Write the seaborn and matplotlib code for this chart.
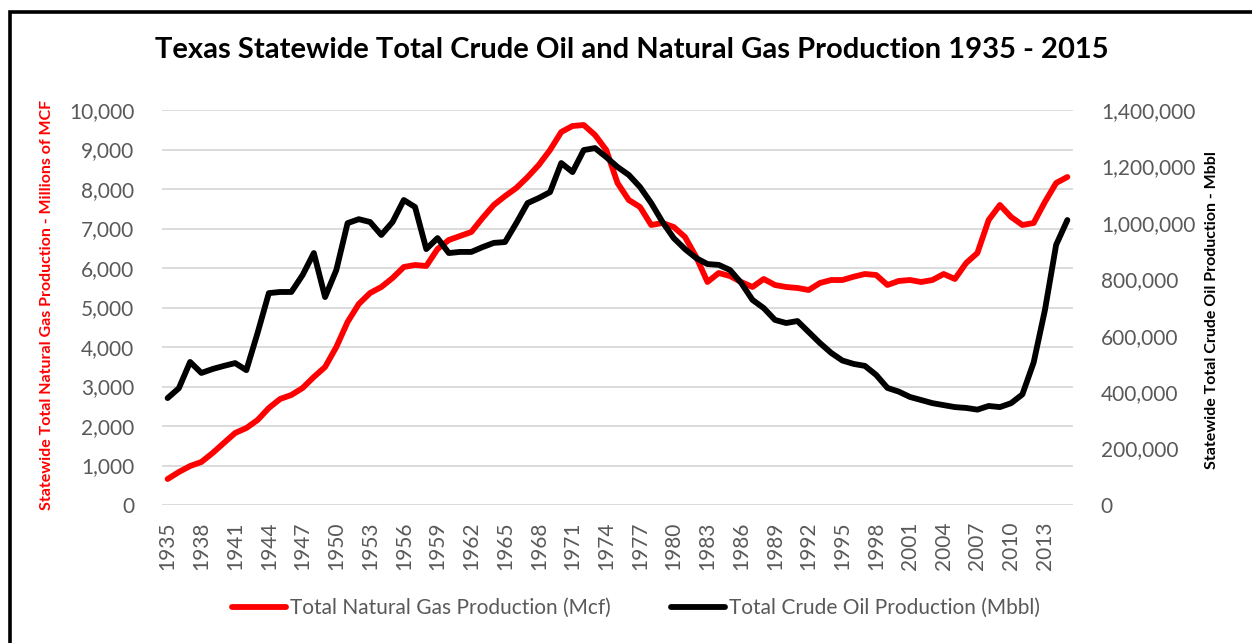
import numpy as np
import pandas as pd
import matplotlib
matplotlib.use("Agg")
import matplotlib.pyplot as plt
from matplotlib.patches import Rectangle
from matplotlib.ticker import FuncFormatter
import seaborn as sns

years = list(range(1935, 2016))

# natural gas, millions of MCF (left axis)
gas = [658, 835, 987, 1089, 1316, 1570, 1823, 1949, 2152, 2456,
       2684, 2785, 2962, 3241, 3494, 4000, 4633, 5090, 5367, 5519,
       5747, 6025, 6076, 6051, 6481, 6709, 6810, 6911, 7266, 7595,
       7820, 8025, 8300, 8608, 8987, 9443, 9595, 9620, 9367, 8987,
       8152, 7722, 7544, 7089, 7139, 7038, 6785, 6278, 5646, 5873,
       5797, 5646, 5519, 5722, 5570, 5519, 5494, 5443, 5620, 5696,
       5696, 5780, 5848, 5823, 5570, 5671, 5696, 5646, 5696, 5848,
       5722, 6127, 6380, 7215, 7595, 7291, 7089, 7139, 7671, 8152,
       8304]

# crude oil, Mbbl (right axis)
oil = [379000, 414000, 507000, 468000, 482000, 493000, 503000, 478000, 610000, 751000,
       755000, 755000, 815000, 893000, 737000, 833000, 999000, 1013000, 1003000, 957000,
       1003000, 1081000, 1056000, 907000, 946000, 893000, 897000, 897000, 914000, 929000,
       932000, 999000, 1070000, 1088000, 1109000, 1212000, 1180000, 1258000, 1265000, 1233000,
       1198000, 1170000, 1127000, 1070000, 1003000, 946000, 907000, 875000, 854000, 851000,
       833000, 787000, 727000, 698000, 656000, 645000, 652000, 613000, 574000, 539000,
       512000, 500000, 493000, 461000, 415000, 402000, 383000, 372000, 361000, 354000,
       347000, 344000, 338000, 351000, 347000, 361000, 392000, 505000, 690000, 922000,
       1010000]

gas_label = "Total Natural Gas Production (Mcf)"
oil_label = "Total Crude Oil Production (Mbbl)"

df = pd.DataFrame({"pos": np.arange(len(years)), "year": years, "gas": gas, "oil": oil})

sns.set_style("white")
plt.rcParams["font.family"] = ["Lato", "DejaVu Sans"]

tick_color = "#595959"

fig = plt.figure(figsize=(12.52, 6.43), dpi=100)
ax = fig.add_axes([162 / 1252, 1 - 505 / 643, (1073 - 162) / 1252, (505 - 110) / 643])
ax2 = ax.twinx()

sns.lineplot(data=df, x="pos", y="gas", ax=ax, color="#ff0000", linewidth=4.2,
             solid_capstyle="round", solid_joinstyle="round", legend=False)
sns.lineplot(data=df, x="pos", y="oil", ax=ax2, color="black", linewidth=4.2,
             solid_capstyle="round", solid_joinstyle="round", legend=False)

ax.set_xlim(-0.5, len(years) - 0.5)
ax.set_ylim(0, 10000)
ax2.set_ylim(0, 1400000)
ax.set_yticks(range(0, 10001, 1000))
ax2.set_yticks(range(0, 1400001, 200000))
ax.yaxis.set_major_formatter(FuncFormatter(lambda v, p: f"{int(v):,}"))
ax2.yaxis.set_major_formatter(FuncFormatter(lambda v, p: f"{int(v):,}"))

ax.set_xticks(df["pos"][::3])
ax.set_xticklabels(df["year"][::3], rotation=90)

ax.grid(axis="y", color="#d9d9d9", linewidth=1.3)
ax.grid(axis="x", visible=False)
ax2.grid(False)
for a in (ax, ax2):
    for s in a.spines.values():
        s.set_visible(False)
    a.set_xlabel("")
    a.set_ylabel("")

ax.tick_params(axis="y", length=0, pad=20, labelsize=15, labelcolor=tick_color)
ax2.tick_params(axis="y", length=0, pad=20, labelsize=15, labelcolor=tick_color)
ax.tick_params(axis="x", length=0, pad=12, labelsize=15, labelcolor=tick_color)

fig.text(632 / 1252, 1 - 50 / 643, "Texas Statewide Total Crude Oil and Natural Gas Production 1935 - 2015",
         ha="center", va="center", fontsize=21, fontweight="bold", color="black")
fig.text(47 / 1252, 1 - 305 / 643, "Statewide Total Natural Gas Production - Millions of MCF",
         rotation=90, ha="center", va="center", fontsize=11.5, fontweight="bold", color="#ff0000")
fig.text(1212 / 1252, 1 - 310 / 643, "Statewide Total Crude Oil Production - Mbbl",
         rotation=90, ha="center", va="center", fontsize=11.5, fontweight="bold", color="black")

handles = [ax.get_lines()[0], ax2.get_lines()[0]]
fig.legend(handles, [gas_label, oil_label], loc="center", bbox_to_anchor=(636 / 1252, 1 - 608 / 643),
           ncol=2, frameon=False, fontsize=15, labelcolor=tick_color,
           handlelength=2.6, handletextpad=0.2, columnspacing=2.9)

# chart frame (cropped on right and bottom)
fig.add_artist(Rectangle((10 / 1252, -0.2), 1.3, 1.2 - 12 / 643, transform=fig.transFigure,
                         fill=False, edgecolor="black", linewidth=2.6, clip_on=False))

fig.savefig("out.png", dpi=100)
